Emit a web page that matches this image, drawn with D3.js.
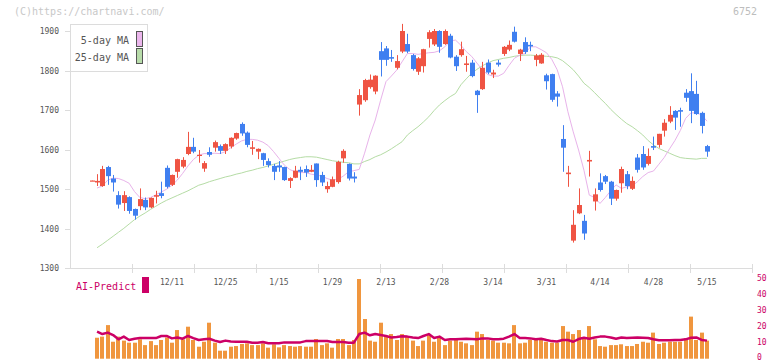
<!DOCTYPE html>
<html><head><meta charset="utf-8">
<script src="https://cdn.jsdelivr.net/npm/d3@7"></script>
<style>html,body{margin:0;padding:0;background:#fff;}svg{display:block;}</style>
</head><body>
<svg id="c" width="772" height="361"></svg>
<script>
const dates = ["11/20","11/21","11/22","11/25","11/26","11/27","11/28","11/29","12/2","12/3","12/4","12/5","12/6","12/9","12/10","12/11","12/12","12/13","12/16","12/17","12/18","12/19","12/20","12/23","12/24","12/25","12/26","12/27","12/30","1/6","1/7","1/8","1/9","1/10","1/14","1/15","1/16","1/17","1/20","1/21","1/22","1/23","1/24","1/27","1/28","1/29","1/30","1/31","2/3","2/4","2/5","2/6","2/7","2/10","2/12","2/13","2/14","2/17","2/18","2/19","2/20","2/21","2/25","2/26","2/27","2/28","3/3","3/4","3/5","3/6","3/7","3/10","3/11","3/12","3/13","3/14","3/17","3/18","3/19","3/21","3/24","3/25","3/26","3/27","3/28","3/31","4/1","4/2","4/3","4/4","4/7","4/8","4/9","4/10","4/11","4/14","4/15","4/16","4/17","4/18","4/21","4/22","4/23","4/24","4/25","4/28","4/30","5/1","5/2","5/7","5/8","5/9","5/12","5/13","5/14","5/15"];
const open  = [1521,1517,1508,1556,1527,1485,1465,1480,1450,1457,1473,1454,1481,1490,1554,1511,1544,1557,1589,1607,1584,1552,1594,1605,1609,1597,1608,1628,1665,1643,1602,1595,1591,1571,1559,1560,1556,1521,1529,1549,1551,1544,1565,1536,1500,1506,1518,1578,1564,1532,1714,1725,1758,1747,1849,1856,1834,1807,1848,1867,1839,1797,1811,1880,1866,1900,1867,1888,1835,1839,1814,1820,1749,1753,1820,1790,1820,1842,1853,1898,1842,1872,1865,1827,1818,1788,1791,1742,1627,1538,1370,1439,1420,1570,1469,1517,1533,1519,1476,1515,1538,1501,1580,1589,1564,1609,1612,1648,1671,1698,1700,1744,1748,1741,1693,1609];
const high  = [1522,1538,1559,1559,1536,1495,1495,1482,1451,1502,1479,1479,1496,1519,1560,1537,1577,1581,1645,1630,1599,1571,1606,1623,1613,1616,1631,1643,1669,1646,1622,1603,1592,1578,1564,1571,1557,1530,1559,1557,1560,1561,1565,1544,1519,1532,1572,1601,1565,1543,1753,1779,1790,1788,1872,1862,1852,1839,1918,1893,1842,1834,1855,1902,1905,1902,1904,1893,1839,1873,1837,1827,1751,1822,1828,1802,1827,1862,1876,1911,1855,1884,1873,1842,1844,1792,1792,1748,1662,1559,1447,1502,1435,1597,1502,1540,1536,1521,1499,1557,1546,1532,1589,1609,1603,1633,1640,1677,1710,1700,1706,1753,1793,1774,1696,1612];
const low   = [1521,1508,1506,1511,1494,1451,1445,1438,1423,1447,1447,1452,1464,1477,1502,1508,1529,1553,1586,1591,1567,1544,1582,1595,1589,1589,1603,1625,1635,1606,1587,1576,1559,1555,1523,1544,1521,1503,1528,1523,1531,1543,1506,1508,1491,1505,1514,1567,1522,1517,1686,1721,1754,1740,1785,1812,1822,1803,1844,1844,1800,1789,1795,1858,1862,1845,1865,1831,1799,1835,1797,1783,1693,1751,1791,1781,1810,1837,1849,1871,1824,1842,1849,1811,1817,1752,1721,1709,1544,1506,1365,1437,1372,1532,1446,1494,1513,1460,1471,1491,1500,1498,1542,1549,1560,1599,1605,1633,1667,1650,1658,1721,1667,1688,1641,1582];
const close = [1522,1521,1551,1533,1517,1461,1485,1445,1433,1475,1454,1478,1485,1483,1506,1536,1576,1574,1607,1595,1587,1566,1587,1619,1597,1614,1630,1642,1641,1612,1606,1602,1574,1561,1544,1555,1523,1528,1547,1544,1542,1549,1523,1517,1508,1525,1569,1597,1527,1527,1738,1776,1777,1787,1827,1827,1830,1824,1900,1848,1804,1831,1854,1897,1900,1860,1900,1833,1811,1854,1818,1786,1738,1807,1795,1795,1815,1860,1865,1873,1853,1847,1861,1838,1840,1773,1726,1734,1605,1542,1410,1460,1388,1574,1487,1498,1519,1476,1498,1551,1508,1521,1549,1555,1584,1605,1640,1668,1688,1681,1696,1731,1698,1690,1660,1595];
const ma5   = [null,1503,1508,1523,1528,1527,1522,1515,1494,1479,1476,1479,1486,1493,1500,1510,1523,1540,1559,1575,1586,1590,1590,1591,1590,1595,1605,1614,1622,1626,1626,1624,1619,1610,1595,1578,1561,1550,1544,1542,1542,1538,1536,1533,1527,1523,1525,1533,1544,1547,1550,1591,1637,1675,1725,1772,1786,1801,1822,1843,1843,1841,1843,1845,1846,1850,1860,1875,1877,1864,1848,1836,1819,1802,1790,1786,1786,1793,1813,1831,1839,1843,1860,1860,1853,1845,1828,1802,1759,1696,1645,1599,1548,1485,1479,1464,1479,1496,1511,1502,1506,1508,1519,1532,1542,1546,1563,1580,1602,1623,1648,1679,1693,1693,1688,1672];
const ma25  = [null,1352,1361,1371,1381,1391,1401,1412,1423,1432,1440,1449,1457,1465,1472,1478,1484,1490,1496,1503,1510,1514,1519,1523,1527,1531,1534,1538,1541,1545,1548,1552,1555,1559,1563,1567,1571,1575,1578,1580,1582,1582,1581,1578,1575,1572,1570,1568,1567,1564,1564,1570,1575,1582,1587,1594,1602,1611,1620,1637,1648,1658,1670,1683,1699,1713,1724,1734,1742,1764,1779,1793,1803,1812,1819,1825,1828,1831,1833,1836,1838,1839,1839,1838,1837,1836,1835,1832,1825,1814,1802,1786,1768,1757,1744,1730,1717,1702,1689,1677,1666,1658,1648,1637,1623,1612,1603,1597,1591,1585,1580,1578,1577,1576,1578,1578];
const volume = [null,13.1,13.8,21,10.6,13.8,11.3,10,10,12.1,8.5,11,8.5,11.7,13.3,10,17.9,12.1,20,11.7,7.5,10.6,22.5,10,5,5,7.5,7.9,9.2,9.6,8.5,8.5,9.6,6.9,9,7.1,8.5,7.9,7.5,7.9,7.5,7.5,12.3,8.5,9.6,6.9,12.3,12.3,8.5,11.7,49.8,24.8,11.3,10.6,22.5,13.8,15.4,11.7,15.4,13.8,11.3,7.9,11.3,15.4,10.6,13.8,8.5,11.3,11.7,10.6,9.6,8.5,16.9,15.4,11.7,11.3,10,10,9.6,21,9.6,10,11.7,12.7,12.7,10.6,10,10,20.4,16.9,15.4,17.9,12.7,20.4,12.1,7.9,7.5,8.5,8.5,9,7.9,7.9,9.2,10.6,10,16.3,9.2,10,10.6,10.6,10.6,12.7,26.3,11.7,16.3,11.3];
const aiPredict = [null,16.9,15.4,16.3,14.8,12.1,13.8,11.7,12.5,12.9,12.9,12.9,12.9,14.2,14.2,12.7,13.3,12.5,14.2,12.9,11.7,12.1,12.5,11.3,10.4,11.3,10.8,10.6,10.6,10.6,10,10,10.4,9.6,9.6,9.6,10.2,10.2,10.2,10.2,11,11,11,11,11,10.4,10.4,10.4,10,10,15.4,16.3,14.6,15.4,14.8,14.2,13.3,13.5,14,13.8,13.3,12.9,14.2,15.4,12.9,13.8,11.7,12.1,12.1,12.3,12.5,12.3,12.1,12.7,12.7,12.1,12.1,12.5,13.8,15.4,12.9,12.9,12.7,12.1,12.5,11.7,11,10.8,11.7,11.7,10.6,12.3,13.1,12.5,13.3,13.8,13.8,13.3,12.5,13.3,12.9,13.1,13.3,13.1,12.9,12.1,11.5,11.5,11.5,11.7,11.7,12.1,13.1,13.3,11.7,11.3];
const xTickLabels = ["12/11","12/25","1/15","1/29","2/13","2/28","3/14","3/31","4/14","4/28","5/15"];
const priceTicks = [1300,1400,1500,1600,1700,1800,1900];
const volTicks = [0,10,20,30,40,50];

const svg = d3.select("#c");
const MONO = "'DejaVu Sans Mono', 'Liberation Mono', monospace";
const GRID = "#dcdcdc";
const RED = "#ef5443", BLUE = "#3f7ff0";

const x = d3.scalePoint().domain(dates).range([91.7, 707]);
const y = d3.scaleLinear().domain([1300, 1900]).range([268.3, 31]);
const yv = d3.scaleLinear().domain([0, 50]).range([358.7, 278.7]);
const xAxisScale = d3.scaleLinear().domain([0, 11]).range([70, 752]);

// watermark
svg.append("text").attr("x", 14).attr("y", 15).attr("font-family", MONO).attr("font-size", 10)
  .attr("fill", "#c8c8c8").text("(C)https://chartnavi.com/");
svg.append("text").attr("x", 757).attr("y", 15).attr("text-anchor", "end").attr("font-family", MONO)
  .attr("font-size", 10).attr("fill", "#bdbdbd").text("6752");

// axes
svg.append("line").attr("x1", 70.5).attr("x2", 70.5).attr("y1", 24).attr("y2", 268.5)
  .attr("stroke", GRID);
svg.append("line").attr("x1", 70).attr("x2", 752).attr("y1", 268.5).attr("y2", 268.5)
  .attr("stroke", GRID);
svg.selectAll(".xt").data(d3.range(1, 12)).enter().append("line")
  .attr("x1", d => Math.round(xAxisScale(d)) + 0.5).attr("x2", d => Math.round(xAxisScale(d)) + 0.5)
  .attr("y1", 264).attr("y2", 273).attr("stroke", GRID);
svg.selectAll(".yt").data(priceTicks).enter().append("line")
  .attr("x1", 65).attr("x2", 70).attr("y1", d => Math.round(y(d)) + 0.5).attr("y2", d => Math.round(y(d)) + 0.5)
  .attr("stroke", GRID);
svg.selectAll(".yl").data(priceTicks).enter().append("text")
  .attr("x", 59).attr("y", d => y(d) + 3).attr("text-anchor", "end")
  .attr("font-family", MONO).attr("font-size", 8).attr("fill", "#555").text(d => d);
svg.selectAll(".xl").data(xTickLabels).enter().append("text")
  .attr("x", d => x(d)).attr("y", 285).attr("text-anchor", "middle")
  .attr("font-family", MONO).attr("font-size", 8).attr("fill", "#555").text(d => d);

// moving averages
const idx = d3.range(dates.length);
const lineGen = arr => d3.line().defined(i => arr[i] != null).x(i => x(dates[i])).y(i => y(arr[i]));
svg.append("path").attr("d", lineGen(ma25)(idx)).attr("fill", "none").attr("stroke", "#b5dca5").attr("stroke-width", 1);
svg.append("path").attr("d", lineGen(ma5)(idx)).attr("fill", "none").attr("stroke", "#e8b3ea").attr("stroke-width", 1);

// candles
const cg = svg.append("g");
idx.forEach(i => {
  const cx = Math.round(x(dates[i]));
  const up = close[i] >= open[i];
  const col = up ? RED : BLUE;
  cg.append("line").attr("x1", cx + 0.5).attr("x2", cx + 0.5)
    .attr("y1", y(high[i])).attr("y2", y(low[i])).attr("stroke", col).attr("stroke-width", 1);
  const top = y(Math.max(open[i], close[i]));
  const bot = y(Math.min(open[i], close[i]));
  cg.append("rect").attr("x", cx - 2).attr("width", 5)
    .attr("y", top).attr("height", Math.max(1.2, bot - top)).attr("fill", col);
});

// legend
svg.append("rect").attr("x", 70.5).attr("y", 24.5).attr("width", 77).attr("height", 47)
  .attr("fill", "#fff").attr("stroke", GRID);
svg.append("text").attr("x", 129).attr("y", 44).attr("text-anchor", "end").attr("font-family", MONO)
  .attr("font-size", 10).attr("fill", "#555").text("5-day MA");
svg.append("text").attr("x", 129).attr("y", 61).attr("text-anchor", "end").attr("font-family", MONO)
  .attr("font-size", 10).attr("fill", "#555").text("25-day MA");
svg.append("rect").attr("x", 136.5).attr("y", 31.5).attr("width", 6).attr("height", 15)
  .attr("fill", "#ebb6ec").attr("stroke", "#555");
svg.append("rect").attr("x", 136.5).attr("y", 48.5).attr("width", 6).attr("height", 15)
  .attr("fill", "#b8dcaa").attr("stroke", "#555");

// lower panel
svg.append("text").attr("x", 76).attr("y", 290).attr("font-family", MONO).attr("font-size", 10)
  .attr("fill", "#cc0066").text("AI-Predict");
svg.append("rect").attr("x", 142).attr("y", 277).attr("width", 7).attr("height", 16).attr("fill", "#cc0066");

svg.selectAll(".vb").data(idx.filter(i => volume[i] != null)).enter().append("rect")
  .attr("x", i => Math.round(x(dates[i])) - 2).attr("width", 4)
  .attr("y", i => yv(volume[i])).attr("height", i => yv(0) - yv(volume[i]))
  .attr("fill", "#f0963e");

svg.append("path").attr("d", d3.line().defined(i => aiPredict[i] != null)
    .x(i => x(dates[i])).y(i => yv(aiPredict[i]))(idx))
  .attr("fill", "none").attr("stroke", "#cc0066").attr("stroke-width", 2.5).attr("stroke-linejoin", "round");

svg.selectAll(".vl").data(volTicks).enter().append("text")
  .attr("x", 757).attr("y", d => Math.min(yv(d) + 2, 359.5)).attr("font-family", MONO).attr("font-size", 8)
  .attr("fill", "#cc0066").text(d => d);
</script>
</body></html>
